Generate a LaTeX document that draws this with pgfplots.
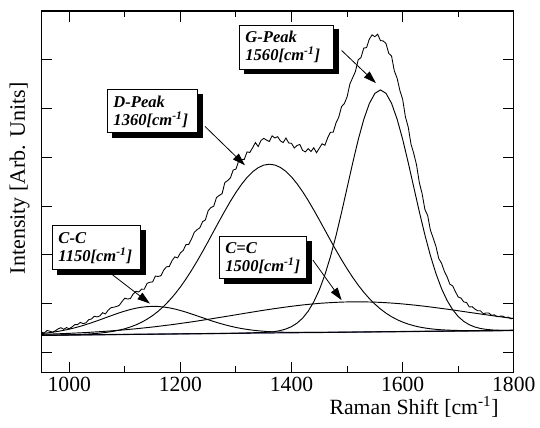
\documentclass[border=0pt]{standalone}
\usepackage{fontspec}
\setmainfont{Liberation Serif}
\usepackage{pgfplots}
\pgfplotsset{compat=1.18}
\usetikzlibrary{arrows.meta}
\definecolor{basenavy}{HTML}{1C1C4E}
\tikzset{
  callout/.style={draw=black, line width=0.75pt, fill=white,
    preaction={draw=black, fill=black, transform canvas={xshift=3.6pt, yshift=-3.6pt}},
    anchor=north west, align=left, inner xsep=4.5pt,
    font=\fontsize{12.4}{13.5}\selectfont\bfseries\itshape},
  callarrow/.style={-{Triangle[length=9.5pt,width=6pt]}, line width=0.6pt, black}
}
\begin{document}
\begin{tikzpicture}
\useasboundingbox (-31.1pt,-41pt) rectangle (373.85pt,279.25pt);
\begin{axis}[
  at={(0,0)}, anchor=south west,
  scale only axis, width=354.2pt, height=271pt,
  xmin=950, xmax=1800, ymin=-0.41, ymax=7.0,
  xtick={1000,1200,1400,1600,1800},
  minor xtick={1100,1300,1500,1700},
  ytick={0,1,2,3,4,5,6}, yticklabels={},
  tick align=inside,
  major tick length=7.9pt, minor tick length=4.5pt,
  every tick/.style={black, line width=0.75pt},
  axis line style={line width=0.9pt},
  /pgf/number format/assume math mode=true,
  /pgf/number format/1000 sep={},
  ticklabel style={font=\fontsize{16.2}{19}\selectfont},
  clip=false,
  cycle list={{black, no markers, line width=0.7pt}},
]
% baseline
\addplot[basenavy, no markers, line width=0.9pt] coordinates {(950,0.350)(1800,0.450)};
% C-C component
\addplot[black, no markers, line width=0.7pt] coordinates {(950,0.386)(960,0.398)(970,0.413)(980,0.431)(990,0.452)(1000,0.476)(1010,0.504)(1020,0.535)(1030,0.570)(1040,0.607)(1050,0.647)(1060,0.688)(1070,0.730)(1080,0.771)(1090,0.811)(1100,0.847)(1110,0.879)(1120,0.906)(1130,0.926)(1140,0.938)(1150,0.944)(1160,0.941)(1170,0.930)(1180,0.913)(1190,0.889)(1200,0.859)(1210,0.825)(1220,0.788)(1230,0.749)(1240,0.710)(1250,0.671)(1260,0.633)(1270,0.598)(1280,0.566)(1290,0.537)(1300,0.511)(1310,0.489)(1320,0.471)(1330,0.455)(1340,0.443)(1350,0.433)(1360,0.425)(1370,0.419)(1380,0.415)(1390,0.412)(1400,0.410)(1420,0.409)(1440,0.409)(1460,0.411)(1500,0.415)(1800,0.450)};
% D component
\addplot[black, no markers, line width=0.7pt] coordinates {(950,0.351)(960,0.352)(970,0.354)(980,0.356)(990,0.358)(1000,0.361)(1010,0.365)(1020,0.369)(1030,0.374)(1040,0.381)(1050,0.390)(1060,0.401)(1070,0.416)(1080,0.434)(1090,0.457)(1100,0.485)(1110,0.521)(1120,0.564)(1130,0.617)(1140,0.680)(1150,0.755)(1160,0.843)(1170,0.945)(1180,1.062)(1190,1.194)(1200,1.341)(1210,1.504)(1220,1.681)(1230,1.869)(1240,2.068)(1250,2.274)(1260,2.486)(1270,2.696)(1280,2.901)(1290,3.098)(1300,3.281)(1310,3.445)(1320,3.588)(1330,3.703)(1340,3.787)(1350,3.840)(1360,3.858)(1370,3.842)(1380,3.792)(1390,3.710)(1400,3.597)(1410,3.457)(1420,3.295)(1430,3.115)(1440,2.920)(1450,2.717)(1460,2.509)(1470,2.300)(1480,2.096)(1490,1.900)(1500,1.714)(1510,1.539)(1520,1.379)(1530,1.234)(1540,1.104)(1550,0.990)(1560,0.890)(1570,0.804)(1580,0.732)(1590,0.671)(1600,0.621)(1610,0.580)(1620,0.547)(1630,0.520)(1640,0.500)(1650,0.484)(1660,0.472)(1670,0.463)(1680,0.457)(1690,0.452)(1700,0.449)(1710,0.447)(1720,0.446)(1730,0.446)(1740,0.445)(1750,0.446)(1760,0.447)(1780,0.448)(1800,0.450)};
% C=C component
\addplot[black, no markers, line width=0.7pt] coordinates {(950,0.369)(960,0.373)(970,0.377)(980,0.381)(990,0.386)(1000,0.390)(1010,0.396)(1020,0.401)(1030,0.407)(1040,0.414)(1050,0.421)(1060,0.428)(1070,0.436)(1080,0.445)(1090,0.454)(1100,0.463)(1110,0.474)(1120,0.484)(1130,0.496)(1140,0.508)(1150,0.520)(1160,0.534)(1170,0.548)(1180,0.562)(1190,0.577)(1200,0.593)(1210,0.609)(1220,0.625)(1230,0.642)(1240,0.660)(1250,0.678)(1260,0.696)(1270,0.715)(1280,0.733)(1290,0.752)(1300,0.771)(1310,0.790)(1320,0.809)(1330,0.827)(1340,0.846)(1350,0.864)(1360,0.881)(1370,0.898)(1380,0.914)(1390,0.930)(1400,0.945)(1410,0.959)(1420,0.972)(1430,0.984)(1440,0.995)(1450,1.005)(1460,1.013)(1470,1.020)(1480,1.026)(1490,1.031)(1500,1.034)(1510,1.036)(1520,1.036)(1530,1.036)(1540,1.033)(1550,1.030)(1560,1.025)(1570,1.019)(1580,1.011)(1590,1.003)(1600,0.993)(1610,0.982)(1620,0.971)(1630,0.958)(1640,0.945)(1650,0.931)(1660,0.916)(1670,0.901)(1680,0.886)(1690,0.870)(1700,0.853)(1710,0.837)(1720,0.820)(1730,0.804)(1740,0.787)(1750,0.771)(1760,0.755)(1770,0.739)(1780,0.723)(1790,0.708)(1800,0.694)};
% G component
\addplot[black, no markers, line width=0.7pt] coordinates {(950,0.350)(1300,0.391)(1360,0.414)(1370,0.427)(1380,0.448)(1390,0.480)(1400,0.528)(1410,0.600)(1420,0.702)(1430,0.845)(1440,1.035)(1450,1.281)(1460,1.589)(1470,1.961)(1480,2.390)(1490,2.868)(1500,3.373)(1510,3.880)(1520,4.359)(1530,4.776)(1540,5.102)(1550,5.310)(1560,5.382)(1570,5.312)(1580,5.107)(1590,4.783)(1600,4.369)(1610,3.892)(1620,3.387)(1630,2.884)(1640,2.409)(1650,1.982)(1660,1.613)(1670,1.307)(1680,1.063)(1690,0.875)(1700,0.735)(1710,0.635)(1720,0.566)(1730,0.520)(1740,0.490)(1750,0.472)(1760,0.461)(1770,0.455)(1780,0.452)(1790,0.451)(1800,0.451)};
% measured spectrum
\addplot[black, no markers, line width=0.65pt] coordinates {(950,0.417)(955,0.397)(960,0.449)(965,0.434)(970,0.414)(975,0.443)(980,0.482)(985,0.506)(990,0.472)(995,0.508)(1000,0.484)(1005,0.523)(1010,0.568)(1015,0.570)(1020,0.614)(1025,0.590)(1030,0.605)(1035,0.671)(1040,0.685)(1045,0.740)(1050,0.728)(1055,0.747)(1060,0.813)(1065,0.788)(1070,0.865)(1075,0.915)(1080,0.926)(1085,0.940)(1090,0.964)(1095,1.043)(1100,1.111)(1105,1.094)(1110,1.103)(1115,1.197)(1120,1.253)(1125,1.239)(1130,1.296)(1135,1.295)(1140,1.415)(1145,1.438)(1150,1.445)(1155,1.564)(1160,1.557)(1165,1.571)(1170,1.688)(1175,1.755)(1180,1.761)(1185,1.882)(1190,1.958)(1195,1.936)(1200,2.040)(1205,2.089)(1210,2.209)(1215,2.215)(1220,2.325)(1225,2.462)(1230,2.516)(1235,2.555)(1240,2.680)(1245,2.717)(1250,2.905)(1255,2.970)(1260,2.997)(1265,3.176)(1270,3.218)(1275,3.253)(1280,3.482)(1285,3.523)(1290,3.577)(1295,3.739)(1300,3.759)(1305,3.929)(1310,3.955)(1315,3.958)(1320,4.110)(1325,4.100)(1330,4.196)(1335,4.302)(1340,4.221)(1345,4.343)(1350,4.389)(1355,4.353)(1360,4.324)(1365,4.440)(1370,4.397)(1375,4.423)(1380,4.337)(1385,4.302)(1390,4.395)(1395,4.293)(1400,4.287)(1405,4.191)(1410,4.243)(1415,4.263)(1420,4.141)(1425,4.111)(1430,4.178)(1435,4.119)(1440,4.195)(1445,4.094)(1450,4.186)(1455,4.277)(1460,4.246)(1465,4.398)(1470,4.512)(1475,4.514)(1480,4.703)(1485,4.823)(1490,5.039)(1495,5.101)(1500,5.238)(1505,5.502)(1510,5.631)(1515,5.760)(1520,6.000)(1525,6.045)(1530,6.239)(1535,6.250)(1540,6.423)(1545,6.511)(1550,6.473)(1555,6.524)(1560,6.393)(1565,6.386)(1570,6.334)(1575,6.130)(1580,6.077)(1585,5.771)(1590,5.622)(1595,5.370)(1600,5.189)(1605,4.827)(1610,4.621)(1615,4.271)(1620,4.077)(1625,3.843)(1630,3.481)(1635,3.255)(1640,2.931)(1645,2.807)(1650,2.503)(1655,2.344)(1660,2.169)(1665,1.923)(1670,1.827)(1675,1.663)(1680,1.548)(1685,1.398)(1690,1.363)(1695,1.242)(1700,1.136)(1705,1.113)(1710,1.034)(1715,1.023)(1720,0.930)(1725,0.937)(1730,0.889)(1735,0.853)(1740,0.852)(1745,0.795)(1750,0.807)(1755,0.808)(1760,0.760)(1765,0.770)(1770,0.731)(1775,0.742)(1780,0.743)(1785,0.714)(1790,0.723)(1795,0.688)(1800,0.704)};
% callouts
\node[callout, text width=61.5pt, minimum height=33pt] at (axis cs:1305.4,6.723) {G-Peak\\1560[cm\textsuperscript{-1}]};
\node[callout, text width=58.5pt, minimum height=32.25pt] at (axis cs:1067.9,5.392) {D-Peak\\1360[cm\textsuperscript{-1}]};
\node[callout, text width=57pt, minimum height=33pt] at (axis cs:968.9,2.607) {C-C\\1150[cm\textsuperscript{-1}]};
\node[callout, text width=56.25pt, minimum height=31.5pt] at (axis cs:1269.4,2.382) {C=C\\1500[cm\textsuperscript{-1}]};
\draw[callarrow] (axis cs:1490.2,6.19) -- (axis cs:1552,5.52);
\draw[callarrow] (axis cs:1244.2,4.634) -- (axis cs:1316.2,3.836);
\draw[callarrow] (axis cs:1076.3,1.604) -- (axis cs:1145.2,1.0);
\draw[callarrow] (axis cs:1438.6,1.89) -- (axis cs:1490.2,1.07);
% axis labels
\node[rotate=90, anchor=base, font=\fontsize{16.5}{19}\selectfont] at (axis cs:920.3,3.57) {Intensity [Arb. Units]};
\node[anchor=base, font=\fontsize{16.3}{19}\selectfont] at (axis cs:1620.6,-1.284) {Raman Shift [cm\textsuperscript{-1}]};
\end{axis}
\end{tikzpicture}
\end{document}
